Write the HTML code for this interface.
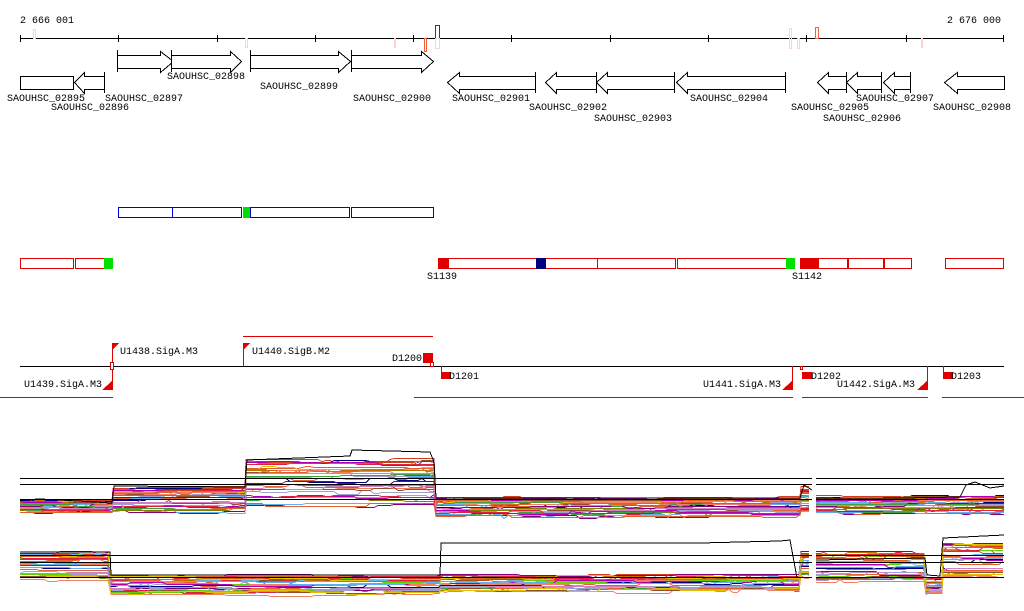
<!DOCTYPE html>
<html><head><meta charset="utf-8"><style>
html,body{margin:0;padding:0;background:#fff;}
svg{display:block;}
text{font-family:"Liberation Mono",monospace;font-size:10px;fill:#000;}
</style></head><body>
<svg id="s" width="1024" height="611" viewBox="0 0 1024 611" xmlns="http://www.w3.org/2000/svg" shape-rendering="crispEdges">
<rect width="1024" height="611" fill="#fff"/>
<text x="20" y="23">2 666 001</text>
<text x="947" y="23">2 676 000</text>
<line x1="20" y1="38.5" x2="1004" y2="38.5" stroke="#000"/>
<g stroke="#000">
<line x1="20.5" y1="35" x2="20.5" y2="42"/><line x1="118.5" y1="35" x2="118.5" y2="42"/><line x1="217.5" y1="35" x2="217.5" y2="42"/><line x1="315.5" y1="35" x2="315.5" y2="42"/><line x1="413.5" y1="35" x2="413.5" y2="42"/><line x1="511.5" y1="35" x2="511.5" y2="42"/><line x1="610.5" y1="35" x2="610.5" y2="42"/><line x1="708.5" y1="35" x2="708.5" y2="42"/><line x1="806.5" y1="35" x2="806.5" y2="42"/><line x1="906.5" y1="35" x2="906.5" y2="42"/><line x1="1003.5" y1="35" x2="1003.5" y2="42"/>
</g>
<g fill="none">
<rect x="33.5" y="29.5" width="2" height="9" stroke="#fbd5c8"/>
<rect x="245.5" y="38.5" width="2" height="9" stroke="#fbd5c8"/>
<rect x="394" y="38" width="2" height="10" fill="#fbd5c8" stroke="none"/>
<rect x="424.5" y="38.5" width="2" height="13" stroke="#f06040"/>
<rect x="435.5" y="25.5" width="4" height="13" stroke="#a01010"/>
<rect x="435.5" y="38.5" width="4" height="10" stroke="#fbd5c8"/>
<rect x="789.5" y="28.5" width="2" height="20" stroke="#fbd5c8"/>
<rect x="797.5" y="38.5" width="2" height="10" stroke="#fbd5c8"/>
<rect x="815.5" y="27.5" width="3" height="11" stroke="#f06040"/>
<rect x="921" y="38" width="2" height="10" fill="#fbd5c8" stroke="none"/>
</g>
<g fill="#fff" stroke="#000" stroke-width="1">
<polygon points="117.5,55.5 160.5,55.5 160.5,51.5 173.5,61.5 160.5,72.5 160.5,68.5 117.5,68.5"/>
<line x1="117.5" y1="50" x2="117.5" y2="72"/>
<polygon points="171.5,55.5 230.5,55.5 230.5,51.5 241.5,61.5 230.5,72.5 230.5,68.5 171.5,68.5"/>
<line x1="171.5" y1="50" x2="171.5" y2="72"/>
<polygon points="250.5,55.5 338.5,55.5 338.5,51.5 350.5,61.5 338.5,72.5 338.5,68.5 250.5,68.5"/>
<line x1="250.5" y1="50" x2="250.5" y2="72"/>
<polygon points="351.5,55.5 421.5,55.5 421.5,51.5 433.5,61.5 421.5,72.5 421.5,68.5 351.5,68.5"/>
<line x1="351.5" y1="50" x2="351.5" y2="72"/>
<rect x="20.5" y="76.5" width="53" height="13"/>
<polygon points="104.5,76.5 84.5,76.5 84.5,72.5 74.5,82.5 84.5,93.5 84.5,89.5 104.5,89.5"/><line x1="104.5" y1="72" x2="104.5" y2="93"/>
<polygon points="535.5,76.5 459.5,76.5 459.5,72.5 447.5,82.5 459.5,93.5 459.5,89.5 535.5,89.5"/><line x1="535.5" y1="72" x2="535.5" y2="93"/>
<polygon points="596.5,76.5 556.5,76.5 556.5,72.5 545.5,82.5 556.5,93.5 556.5,89.5 596.5,89.5"/><line x1="596.5" y1="72" x2="596.5" y2="93"/>
<polygon points="674.5,76.5 607.5,76.5 607.5,72.5 596.5,82.5 607.5,93.5 607.5,89.5 674.5,89.5"/><line x1="674.5" y1="72" x2="674.5" y2="93"/>
<polygon points="785.5,76.5 687.5,76.5 687.5,72.5 676.5,82.5 687.5,93.5 687.5,89.5 785.5,89.5"/><line x1="785.5" y1="72" x2="785.5" y2="93"/>
<polygon points="846.5,76.5 828.5,76.5 828.5,72.5 817.5,82.5 828.5,93.5 828.5,89.5 846.5,89.5"/><line x1="846.5" y1="72" x2="846.5" y2="93"/>
<polygon points="881.5,76.5 857.5,76.5 857.5,72.5 846.5,82.5 857.5,93.5 857.5,89.5 881.5,89.5"/><line x1="881.5" y1="72" x2="881.5" y2="93"/>
<polygon points="910.5,76.5 894.5,76.5 894.5,72.5 883.5,82.5 894.5,93.5 894.5,89.5 910.5,89.5"/><line x1="910.5" y1="72" x2="910.5" y2="93"/>
<polygon points="1004.5,76.5 957.5,76.5 957.5,72.5 944.5,82.5 957.5,93.5 957.5,89.5 1004.5,89.5"/>
</g>
<text x="7" y="101">SAOUHSC_02895</text>
<text x="51" y="110">SAOUHSC_02896</text>
<text x="105" y="101">SAOUHSC_02897</text>
<text x="167" y="79">SAOUHSC_02898</text>
<text x="260" y="89">SAOUHSC_02899</text>
<text x="353" y="101">SAOUHSC_02900</text>
<text x="452" y="101">SAOUHSC_02901</text>
<text x="529" y="110">SAOUHSC_02902</text>
<text x="594" y="121">SAOUHSC_02903</text>
<text x="690" y="101">SAOUHSC_02904</text>
<text x="791" y="110">SAOUHSC_02905</text>
<text x="823" y="121">SAOUHSC_02906</text>
<text x="856" y="101">SAOUHSC_02907</text>
<text x="933" y="110">SAOUHSC_02908</text>
<g fill="#fff" stroke="#0000e0">
<rect x="118.5" y="207.5" width="54" height="10"/>
<rect x="172.5" y="207.5" width="69" height="10"/>
<rect x="250.5" y="207.5" width="99" height="10"/>
<rect x="351.5" y="207.5" width="82" height="10"/>
</g>
<rect x="243" y="207" width="7" height="11" fill="#00e000"/>
<g fill="#fff" stroke="#e00000">
<rect x="20.5" y="258.5" width="53" height="10"/>
<rect x="75.5" y="258.5" width="29" height="10"/>
<rect x="438.5" y="258.5" width="159" height="10"/>
<rect x="597.5" y="258.5" width="78" height="10"/>
<rect x="677.5" y="258.5" width="109" height="10"/>
<rect x="800.5" y="258.5" width="47" height="10"/>
<rect x="848.5" y="258.5" width="35" height="10"/>
<rect x="884.5" y="258.5" width="27" height="10"/>
<rect x="945.5" y="258.5" width="58" height="10"/>
</g>
<rect x="104" y="258" width="9" height="11" fill="#00e000"/>
<rect x="438" y="258" width="11" height="11" fill="#e00000"/>
<rect x="536" y="258" width="10" height="11" fill="#000080"/>
<rect x="786" y="258" width="9" height="11" fill="#00e000"/>
<rect x="800" y="258" width="19" height="11" fill="#e00000"/>
<text x="427" y="279">S1139</text>
<text x="792" y="279">S1142</text>
<line x1="20" y1="366.5" x2="1004" y2="366.5" stroke="#000"/>
<g stroke="#e00000" fill="#e00000">
<line x1="243" y1="336.5" x2="433" y2="336.5"/>
<line x1="0" y1="397.5" x2="113" y2="397.5"/>
<line x1="414" y1="397.5" x2="793" y2="397.5"/>
<line x1="802" y1="397.5" x2="928" y2="397.5"/>
<line x1="942" y1="397.5" x2="1024" y2="397.5"/>
<line x1="112.5" y1="343" x2="112.5" y2="390"/>
<polygon points="112,343 119,343 112,350" stroke="none"/>
<polygon points="112,381 112,390 102,390" stroke="none"/>
<rect x="110.5" y="362.5" width="3" height="7" fill="#fff"/>
<line x1="243.5" y1="343" x2="243.5" y2="366"/>
<polygon points="243,343 250,343 243,350" stroke="none"/>
<rect x="423" y="353" width="10" height="10" stroke="none"/>
<rect x="430.5" y="362.5" width="3" height="4" fill="#fff"/>
<line x1="441.5" y1="366" x2="441.5" y2="375"/>
<rect x="441" y="372" width="10" height="7" stroke="none"/>
<line x1="792.5" y1="366" x2="792.5" y2="390"/>
<polygon points="792,381 792,390 782,390" stroke="none"/>
<rect x="800.5" y="366.5" width="2" height="3" fill="#fff"/>
<rect x="802" y="372" width="10" height="7" stroke="none"/>
<line x1="927.5" y1="366" x2="927.5" y2="390"/>
<polygon points="927,381 927,390 917,390" stroke="none"/>
<line x1="943.5" y1="366" x2="943.5" y2="374"/>
<rect x="943" y="372" width="10" height="7" stroke="none"/>
</g>
<text x="120" y="354">U1438.SigA.M3</text>
<text x="252" y="354">U1440.SigB.M2</text>
<text x="392" y="361">D1200</text>
<text x="24" y="387">U1439.SigA.M3</text>
<text x="449" y="379">D1201</text>
<text x="703" y="387">U1441.SigA.M3</text>
<text x="811" y="379">D1202</text>
<text x="837" y="387">U1442.SigA.M3</text>
<text x="951" y="379">D1203</text>
<g id="plots" fill="none" stroke-width="1"></g>
<g stroke="#000">
<line x1="20" y1="478.5" x2="812" y2="478.5"/><line x1="816" y1="478.5" x2="1004" y2="478.5"/>
<line x1="20" y1="484.5" x2="812" y2="484.5"/><line x1="816" y1="484.5" x2="1004" y2="484.5"/>
<line x1="20" y1="499.5" x2="812" y2="499.5"/><line x1="816" y1="499.5" x2="1004" y2="499.5"/>
<line x1="20" y1="555.5" x2="812" y2="555.5"/><line x1="816" y1="555.5" x2="1004" y2="555.5"/>
<line x1="20" y1="562.5" x2="812" y2="562.5"/><line x1="816" y1="562.5" x2="1004" y2="562.5"/>
<line x1="20" y1="577.5" x2="812" y2="577.5"/><line x1="816" y1="577.5" x2="1004" y2="577.5"/>
</g>
</svg>
<script>
(function(){
var g=document.getElementById('plots');
var seed=7;function r(){seed=(seed*16807)%2147483647;return seed/2147483647;}
var cols=['#e06030','#808000','#800080','#60b0f0','#60d000','#d080c0','#a05020','#e02040','#a0a0d0','#000080','#c07000','#f08060','#40a040','#905030','#b000b0','#e0c000','#e06030','#d04020','#f08060'];
var top=[[20,112,500,512],[113,245,487,511],[246,435,460,506],[436,800,498,516],[801,812,488,512],[816,1004,497,513]];
var bot=[[20,110,552,580],[111,440,576,594],[441,790,575,591],[791,800,575,591],[801,812,552,576],[816,925,551,581],[926,942,578,593],[943,1004,542,578]];
function draw(segs,n){
 for(var i=0;i<n;i++){
  var t=r(),c=cols[Math.floor(r()*cols.length)];
  var d='',first=true,off=0;
  for(var s=0;s<segs.length;s++){
   var S=segs[s];
   if(s>0&&segs[s-1][1]+2<S[0]){first=true;}
   for(var x=S[0];x<=S[1];x+=4){
    if(r()<0.12) off=Math.round((r()-0.5)*4);
    var y=Math.round(S[2]+t*(S[3]-S[2])+off)+0.5;
    d+=(first?'M':'L')+x+','+y+' ';first=false;
   }
  }
  var p=document.createElementNS('http://www.w3.org/2000/svg','path');
  p.setAttribute('d',d);p.setAttribute('stroke',c);
  g.appendChild(p);
 }
}
draw(top,34);draw(bot,34);
function line(pts){var p=document.createElementNS('http://www.w3.org/2000/svg','polyline');p.setAttribute('points',pts);p.setAttribute('stroke','#000');g.appendChild(p);}
line('20,500 40,499 60,500 112,503 114,486 245,487 247,460 350,456 352,450 430,452 434,462 436,498 800,498 804,485 812,490');
line('816,498 900,498 960,497 966,485 975,482 990,488 1004,486');
line('20,552 110,552 111,575 440,575 441,543 700,543 780,541 790,540 797,578');
line('816,560 925,558 927,575 940,576 943,538 1004,535');
})();
</script>
</body></html>
